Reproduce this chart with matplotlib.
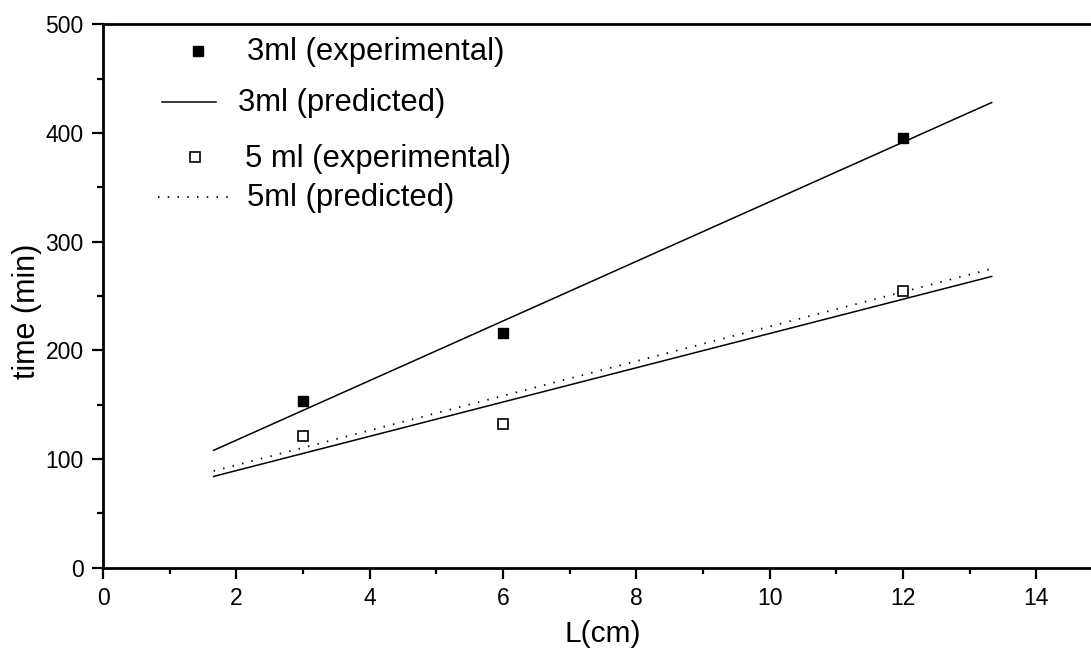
import matplotlib
matplotlib.use('Agg')
import matplotlib.pyplot as plt
from matplotlib.ticker import MultipleLocator

plt.rcParams['font.family'] = ['Liberation Sans', 'DejaVu Sans']

# data
L_exp = [3, 6, 12]
t_3ml_exp = [153, 216, 395]
t_5ml_exp = [121, 132, 255]

L_fit = [1.66, 13.33]
t_3ml_pred = [108, 428]
t_5ml_pred = [89, 275]
t_5ml_other = [84, 268]  # solid line under the dotted one

fig = plt.figure(figsize=(10.91, 6.5), dpi=100)
ax = fig.add_axes([103/1091, 1 - 567.7/650, 1000/1091, 543.4/650])

ax.plot(L_fit, t_3ml_pred, color='black', lw=1.1)
ax.plot(L_fit, t_5ml_other, color='black', lw=1.1)
ax.plot(L_fit, t_5ml_pred, color='black', lw=1.3, linestyle=(0, (0.8, 4.6)))
ax.plot(L_exp, t_3ml_exp, 's', color='black', ms=7.5, ls='none')
ax.plot(L_exp, t_5ml_exp, 's', mfc='white', mec='black', mew=1.2, ms=7, ls='none')

ax.set_xlim(0, 15)
ax.set_ylim(0, 500)
ax.xaxis.set_major_locator(MultipleLocator(2))
ax.xaxis.set_minor_locator(MultipleLocator(1))
ax.yaxis.set_major_locator(MultipleLocator(100))
ax.yaxis.set_minor_locator(MultipleLocator(50))
ax.tick_params(which='major', direction='out', length=8, width=1.6, labelsize=16.5, pad=6)
ax.tick_params(which='minor', direction='out', length=4, width=1.6)
ax.tick_params(top=False, right=False)
for s in ax.spines.values():
    s.set_linewidth(2)

ax.set_xlabel('L(cm)', fontsize=21.5, va='baseline')
ax.set_ylabel('time (min)', fontsize=22)
ax.xaxis.set_label_coords(0.5, -0.137)
ax.yaxis.set_label_coords(-0.061, 0.472)

# hand-placed legend like the original
tr = ax.transAxes
fs = 22.3
ax.plot([0.095], [0.951], 's', color='black', ms=7.5, transform=tr, clip_on=False)
ax.text(0.144, 0.949, '3ml (experimental)', transform=tr, fontsize=fs, va='center')
ax.plot([0.059, 0.113], [0.857, 0.857], color='black', lw=1.1, transform=tr)
ax.text(0.135, 0.855, '3ml (predicted)', transform=tr, fontsize=fs, va='center')
ax.plot([0.092], [0.756], 's', mfc='white', mec='black', mew=1.2, ms=7, transform=tr)
ax.text(0.142, 0.752, '5 ml (experimental)', transform=tr, fontsize=fs, va='center')
ax.plot([0.055, 0.128], [0.682, 0.682], color='black', lw=1.3, linestyle=(0, (0.8, 4.6)), transform=tr)
ax.text(0.144, 0.680, '5ml (predicted)', transform=tr, fontsize=fs, va='center')

fig.savefig('out.png', dpi=100)
